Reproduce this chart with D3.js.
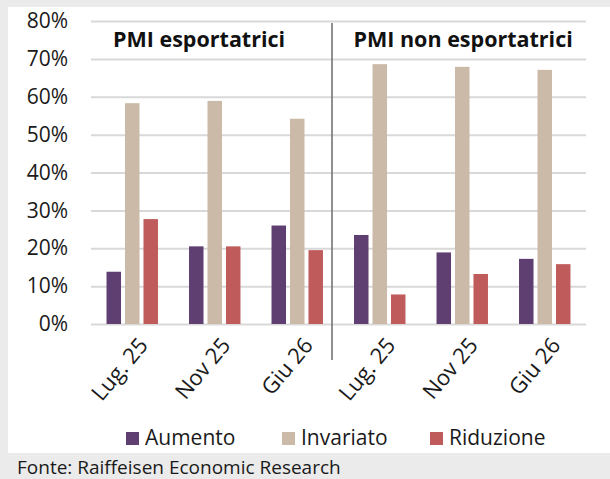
<!DOCTYPE html>
<meta charset="utf-8">
<title>PMI esportatrici / non esportatrici</title>
<style>
body {
  margin: 0;
  background-color: #ebebeb;
}
svg {
  display: block;
  font-family: "Open Sans", sans-serif;
}
</style>
<svg width="610" height="479"></svg>
<script src="https://d3js.org/d3.v7.min.js"></script>
<script>

// data (percent)
var periods = ["Lug. 25", "Nov 25", "Giu 26"];
var panels = ["PMI esportatrici", "PMI non esportatrici"];
var seriesNames = ["Aumento", "Invariato", "Riduzione"];
var aumento   = [13.8, 20.5, 26.0, 23.5, 18.9, 17.2];
var invariato = [58.3, 58.9, 54.2, 68.6, 67.9, 67.1];
var riduzione = [27.7, 20.5, 19.5, 7.8, 13.2, 15.8];
var yTicks = [0, 10, 20, 30, 40, 50, 60, 70, 80];
var source = "Fonte: Raiffeisen Economic Research";

var colors = ["#5f3f72", "#cbbaa7", "#c05b5b"];

var svg = d3.select("svg");

// white chart panel on grey background
svg.append("rect")
    .attr("x", 8)
    .attr("y", 7)
    .attr("width", 602)
    .attr("height", 446)
    .attr("fill", "#fff");

// one band per panel/period pair
var keys = [];
panels.forEach(function(p, i) {
  periods.forEach(function(m) { keys.push(i + "|" + m); });
});

var rows = keys.map(function(k, i) {
  return { key: k, values: [aumento[i], invariato[i], riduzione[i]] };
});

var x = d3.scaleBand()
    .domain(keys)
    .range([91, 586]);

var xInner = d3.scaleBand()
    .domain(seriesNames)
    .range([0, x.bandwidth()])
    .paddingInner(0.216)
    .paddingOuter(0.84);

var y = d3.scaleLinear()
    .domain([0, 80])
    .range([324, 21]);

// gridlines + y labels
var yAxis = d3.axisLeft(y)
    .tickValues(yTicks)
    .tickSize(-(586 - 91))
    .tickPadding(23)
    .tickFormat(function(d) { return d + "%"; });

var gy = svg.append("g")
    .attr("transform", "translate(91,0)")
    .call(yAxis);

gy.select(".domain").remove();
gy.selectAll(".tick line")
    .attr("stroke", "#d9d9d9")
    .attr("stroke-width", 2);
gy.selectAll(".tick text")
    .attr("font-family", "Open Sans, sans-serif")
    .attr("font-size", 21)
    .attr("fill", "#1a1a1a");

// bars
var group = svg.selectAll("g.group")
    .data(rows)
  .enter().append("g")
    .attr("class", "group")
    .attr("transform", function(d) { return "translate(" + x(d.key) + ",0)"; });

group.selectAll("rect")
    .data(function(d) {
      return d.values.map(function(v, j) { return { name: seriesNames[j], value: v, i: j }; });
    })
  .enter().append("rect")
    .attr("x", function(d) { return xInner(d.name); })
    .attr("width", xInner.bandwidth())
    .attr("y", function(d) { return y(d.value); })
    .attr("height", function(d) { return y(0) - y(d.value); })
    .attr("fill", function(d) { return colors[d.i]; });

// rotated period labels
svg.selectAll("text.xlabel")
    .data(keys)
  .enter().append("text")
    .attr("class", "xlabel")
    .attr("text-anchor", "end")
    .attr("font-size", 22)
    .attr("fill", "#1a1a1a")
    .attr("transform", function(d) {
      return "translate(" + (x(d) + x.bandwidth() / 2 + 11) + ",341) rotate(-50)";
    })
    .attr("dy", "0.35em")
    .text(function(d) { return d.split("|")[1]; });

// divider between the two panels
var divX = x(keys[3]) - 6.5;
svg.append("line")
    .attr("x1", divX)
    .attr("x2", divX)
    .attr("y1", 23)
    .attr("y2", 360)
    .attr("stroke", "#6b6b6b")
    .attr("stroke-width", 1.5);

// panel titles
svg.selectAll("text.panel")
    .data(panels)
  .enter().append("text")
    .attr("class", "panel")
    .attr("x", function(d, i) { return i === 0 ? x(keys[0]) + 22 : x(keys[3]) + 15; })
    .attr("y", 47)
    .attr("font-size", 21.5)
    .attr("font-weight", "bold")
    .attr("fill", "#111")
    .text(function(d) { return d; });

// legend
var legendX = [126, 282, 430];
var legend = svg.selectAll("g.legend")
    .data(seriesNames)
  .enter().append("g")
    .attr("class", "legend")
    .attr("transform", function(d, i) { return "translate(" + legendX[i] + ",432)"; });

legend.append("rect")
    .attr("width", 13)
    .attr("height", 13)
    .attr("fill", function(d, i) { return colors[i]; });

legend.append("text")
    .attr("x", 19)
    .attr("y", 13)
    .attr("font-size", 21)
    .attr("fill", "#1a1a1a")
    .text(function(d) { return d; });

// source note
svg.append("text")
    .attr("x", 17)
    .attr("y", 474)
    .attr("font-size", 19)
    .attr("fill", "#1a1a1a")
    .text(source);

</script>
